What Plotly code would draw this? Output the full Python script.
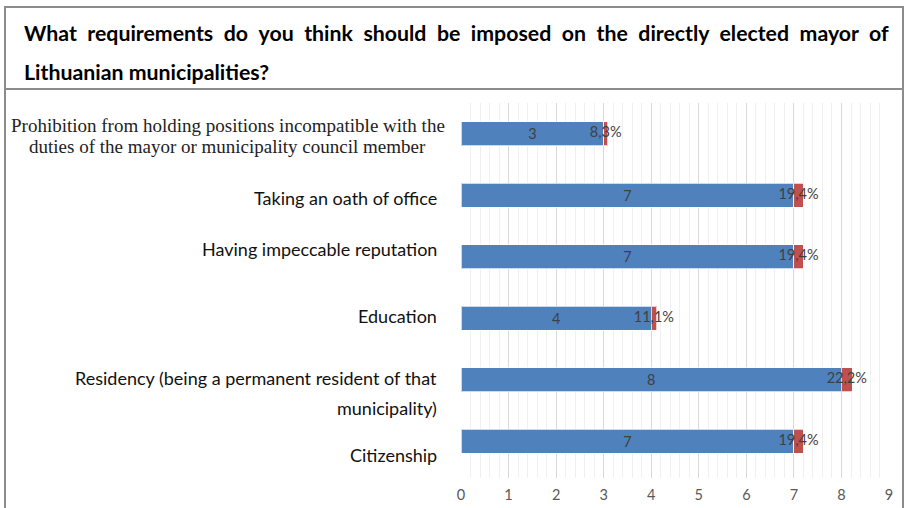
import plotly.graph_objects as go

categories = [
    ["Prohibition from holding positions incompatible with the",
     "duties of the mayor or municipality council member"],
    ["Taking an oath of office"],
    ["Having impeccable reputation"],
    ["Education"],
    ["Residency (being a permanent resident of that", "municipality)"],
    ["Citizenship"],
]
counts = [3, 7, 7, 4, 8, 7]
percents = [8.3, 19.4, 19.4, 11.1, 22.2, 19.4]
pct_labels = ["8,3%", "19,4%", "19,4%", "11,1%", "22,2%", "19,4%"]
x_ticks = [0, 1, 2, 3, 4, 5, 6, 7, 8, 9]
title_line1 = "What requirements do you think should be imposed on the directly elected mayor of"
title_line2 = "Lithuanian municipalities?"

ykeys = [f"c{i}" for i in range(len(categories))]
pct_frac = [p / 100 for p in percents]

BLUE = "#4F81BD"
RED = "#C0504D"
TXT = "#404040"

W, H = 906, 508
L, R, T, B = 461, 16, 103, 30


def px_to_paper_x(px):
    return (px - L) / (W - L - R)


def px_to_paper_y(py):
    return 1 - (py - T) / (H - T - B)


fig = go.Figure()
fig.add_trace(go.Bar(
    y=ykeys, x=counts, orientation="h",
    marker=dict(color=BLUE, line=dict(color="rgba(255,255,255,0.7)", width=1)),
    width=0.39, text=[str(c) for c in counts], textposition="inside",
    insidetextanchor="middle", textfont=dict(family="Lato", size=14.5, color=TXT),
    hoverinfo="skip",
))
fig.add_trace(go.Bar(
    y=ykeys, x=pct_frac, orientation="h",
    marker=dict(color=RED, line=dict(color="rgba(255,255,255,0.7)", width=1)),
    width=0.39, hoverinfo="skip",
))
fig.add_trace(go.Scatter(
    y=ykeys, x=[c + f / 2 for c, f in zip(counts, pct_frac)],
    mode="text", text=pct_labels,
    textfont=dict(family="Lato", size=14.5, color=TXT),
    hoverinfo="skip",
))

# y labels as annotations: (line index -> yshift)
label_shifts = {
    0: [8, -13],
    1: [-3],
    2: [8],
    3: [2],
    4: [2, -28],
    5: [-14],
}
for i, (k, lines) in enumerate(zip(ykeys, categories)):
    for j, line in enumerate(lines):
        if i == 0:
            fig.add_annotation(x=px_to_paper_x(228), xref="paper", y=k, yref="y", text=line,
                               xanchor="center", align="center", showarrow=False,
                               yshift=label_shifts[i][j],
                               font=dict(family="Liberation Serif", size=19, color="#222222"))
        else:
            fig.add_annotation(x=0, xref="paper", y=k, yref="y", text=line,
                               xanchor="right", align="right", showarrow=False,
                               xshift=-22, yshift=label_shifts[i][j],
                               font=dict(family="Lato", size=18, color="#111111"))

# Title (justified look via thin spaces)
just_line1 = title_line1.replace(" ", " \u2005")
fig.add_annotation(x=px_to_paper_x(22), xref="paper", y=px_to_paper_y(33), yref="paper",
                   showarrow=False, text="<b>" + just_line1 + "</b>",
                   xanchor="left", yanchor="middle",
                   font=dict(family="Lato", size=21.3, color="#000000"))
fig.add_annotation(x=px_to_paper_x(22), xref="paper", y=px_to_paper_y(72), yref="paper",
                   showarrow=False, text="<b>" + title_line2 + "</b>",
                   xanchor="left", yanchor="middle",
                   font=dict(family="Lato", size=21.3, color="#000000"))

# frame lines
shape_line = dict(color="#8c8c8c", width=2)
fig.add_shape(type="line", xref="paper", yref="paper",
              x0=px_to_paper_x(4), x1=px_to_paper_x(904), y0=px_to_paper_y(7), y1=px_to_paper_y(7), line=shape_line)
fig.add_shape(type="line", xref="paper", yref="paper",
              x0=px_to_paper_x(4), x1=px_to_paper_x(904), y0=px_to_paper_y(89), y1=px_to_paper_y(89), line=shape_line)
fig.add_shape(type="line", xref="paper", yref="paper",
              x0=px_to_paper_x(5), x1=px_to_paper_x(5), y0=px_to_paper_y(7), y1=px_to_paper_y(510), line=shape_line)
fig.add_shape(type="line", xref="paper", yref="paper",
              x0=px_to_paper_x(903), x1=px_to_paper_x(903), y0=px_to_paper_y(7), y1=px_to_paper_y(510), line=shape_line)

fig.update_layout(
    width=W, height=H, barmode="stack", showlegend=False,
    margin=dict(l=L, r=R, t=T, b=B, autoexpand=False),
    plot_bgcolor="white", paper_bgcolor="white",
    xaxis=dict(range=[0, 9.02], tickvals=x_ticks, ticktext=[str(v) for v in x_ticks],
               showgrid=True, gridcolor="#d9d9d9", gridwidth=1, zeroline=False,
               minor=dict(dtick=0.2, showgrid=True, gridcolor="#f0f0f0", gridwidth=1),
               tickfont=dict(family="Lato", size=14.5, color="#595959"), ticks="", ticklen=0,
               ticklabelstandoff=6, automargin=False,
               showline=False, fixedrange=True),
    yaxis=dict(categoryorder="array", categoryarray=ykeys, range=[5.6, -0.5],
               showticklabels=False, showgrid=False, zeroline=False, showline=False,
               fixedrange=True, automargin=False),
)

fig.write_html("out.html")
